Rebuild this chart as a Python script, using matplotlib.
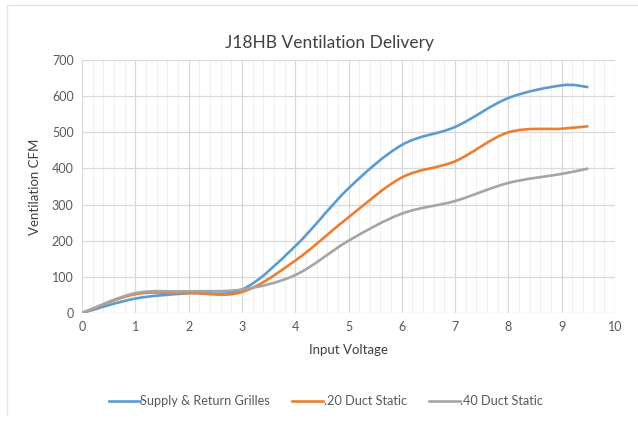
import matplotlib.pyplot as plt
from matplotlib.path import Path
from matplotlib.patches import PathPatch
from matplotlib.lines import Line2D
import numpy as np

plt.rcParams['font.family'] = ['Lato', 'DejaVu Sans']

# data
voltage = [0, 1, 2, 3, 4, 5, 6, 7, 8, 9, 9.5]
grilles = [0, 40, 55, 65, 185, 345, 465, 515, 595, 630, 625]
static_20 = [0, 52, 55, 58, 145, 265, 375, 420, 500, 510, 517]
static_40 = [0, 55, 60, 65, 105, 200, 275, 310, 360, 385, 400]

labels = ["Supply & Return Grilles", ".20 Duct Static", ".40 Duct Static"]
colors = ["#5B9BD5", "#ED7D31", "#A5A5A5"]


def smooth_path(xs, ys):
    # excel-style smoothed line: catmull-rom segments as cubic beziers
    pts = np.column_stack([xs, ys]).astype(float)
    verts = [pts[0]]
    codes = [Path.MOVETO]
    n = len(pts)
    for i in range(n - 1):
        p0 = pts[i - 1] if i > 0 else pts[i]
        p1, p2 = pts[i], pts[i + 1]
        p3 = pts[i + 2] if i + 2 < n else pts[i + 1]
        c1 = p1 + (p2 - p0) / 6
        c2 = p2 - (p3 - p1) / 6
        verts += [c1, c2, p2]
        codes += [Path.CURVE4] * 3
    return Path(verts, codes)


fig = plt.figure(figsize=(6.38, 4.23), dpi=100)
ax = fig.add_axes([0.1285, 0.26, 0.8355, 0.598])

handles = []
for ys, lab, col in zip([grilles, static_20, static_40], labels, colors):
    patch = PathPatch(smooth_path(voltage, ys), facecolor="none",
                      edgecolor=col, lw=1.9, zorder=3)
    ax.add_patch(patch)
    handles.append(Line2D([], [], color=col, lw=1.9))

ax.set_xlim(0, 10)
ax.set_ylim(0, 700)
ax.set_xticks(range(0, 11))
ax.set_yticks(range(0, 701, 100))
ax.set_xticks(np.arange(0, 10.01, 0.2), minor=True)
ax.grid(True, which="major", color="#D9D9D9", lw=0.9)
ax.grid(True, which="minor", axis="x", color="#EEEEEE", lw=0.7)
ax.set_axisbelow(True)
for s in ax.spines.values():
    s.set_visible(False)
ax.tick_params(which="both", length=0, labelsize=9, colors="#595959", pad=6)

fig.text(0.517, 0.898, "J18HB Ventilation Delivery", fontsize=12.5,
         color="#404040", ha="center", va="center")
ax.set_xlabel("Input Voltage", fontsize=9.5, color="#404040", labelpad=8)
ax.set_ylabel("Ventilation CFM", fontsize=9.5, color="#404040", labelpad=8)

fig.legend(handles, labels, loc="center", bbox_to_anchor=(0.511, 0.052), ncol=3,
           frameon=False, fontsize=9.2, labelcolor="#595959", handlelength=2.4,
           handletextpad=0.05, columnspacing=1.75)

# faint chart-area border (left and top)
fig.add_artist(Line2D([0.011, 0.011, 1.0], [0.02, 0.988, 0.988],
                      color="#E3E3E3", lw=0.9))

fig.savefig("out.png", dpi=100)
